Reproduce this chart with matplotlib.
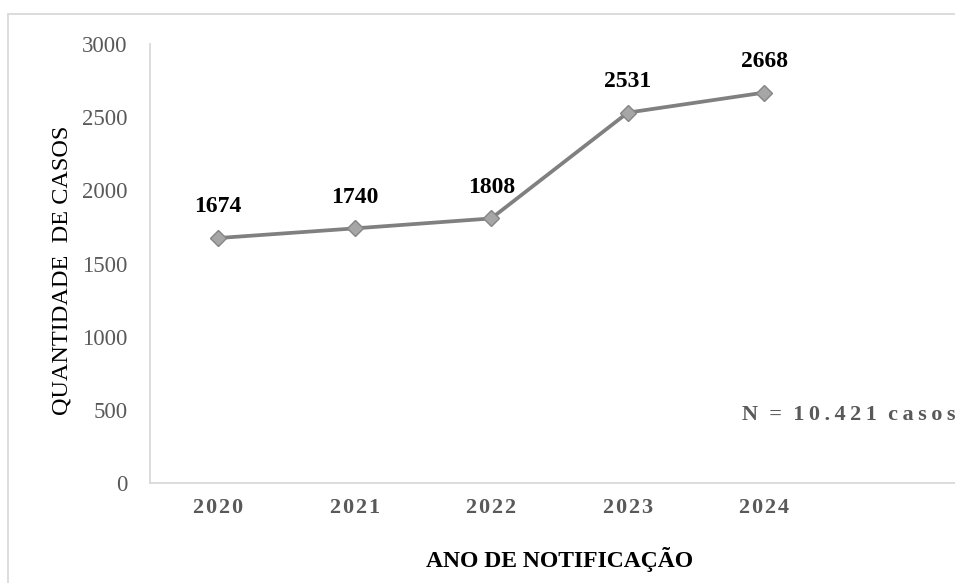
import matplotlib
matplotlib.use("Agg")
import matplotlib.pyplot as plt
from matplotlib.patches import Rectangle

years = ["2020", "2021", "2022", "2023", "2024"]
cases = [1674, 1740, 1808, 2531, 2668]
y_ticks = [0, 500, 1000, 1500, 2000, 2500, 3000]
note = "N = 10.421 casos"
x_title = "ANO DE NOTIFICAÇÃO"
y_title = "QUANTIDADE  DE CASOS"

plt.rcParams['font.family'] = ['Liberation Serif', 'DejaVu Serif']

W, H = 955, 583
fig = plt.figure(figsize=(W / 100, H / 100), dpi=100)

def spaced(s, sep="\u2009"):
    return sep.join(s)

# outer frame
fig.patches.append(Rectangle((8 / W, -0.2), 1.2, 1 - 14 / H + 0.2, transform=fig.transFigure,
                             fill=False, edgecolor="#d9d9d9", linewidth=1.3))

ax = fig.add_axes([150 / W, 100 / H, (969 - 150) / W, (483 - 44) / H])
xs = list(range(len(years)))
ax.plot(xs, cases, color="#808080", linewidth=2.7, marker="D", markersize=8,
        markerfacecolor="#a6a6a6", markeredgecolor="#858585", markeredgewidth=1.0, zorder=3)

for x, v in zip(xs, cases):
    ax.annotate(str(v), (x, v), xytext=(0, 18.5), textcoords="offset points",
                ha="center", va="baseline", fontsize=17, fontweight="bold", color="black")

ax.set_xlim(-0.5, 5.5)
ax.set_ylim(0, 3000)
ax.set_xticks(xs)
ax.set_xticklabels([spaced(y, "\u200a") for y in years], fontsize=16, fontweight="bold", color="#595959")
ax.set_yticks(y_ticks)
ax.set_yticklabels([str(t) for t in y_ticks], fontsize=16.5, color="#595959")
ax.tick_params(axis="both", length=0)
ax.tick_params(axis="y", pad=16)
ax.tick_params(axis="x", pad=11)

for s in ["top", "right"]:
    ax.spines[s].set_visible(False)
for s in ["left", "bottom"]:
    ax.spines[s].set_color("#d9d9d9")
    ax.spines[s].set_linewidth(1.3)

fig.text(742 / W, 1 - 415 / H, "  ".join(spaced(w) for w in note.split(" ")),
         ha="left", va="center", fontsize=16, fontweight="bold", color="#595959")
fig.text(560 / W, 1 - 560 / H, x_title, ha="center", va="center",
         fontsize=17, fontweight="bold", color="black")
fig.text(62 / W, 1 - 270 / H, y_title, ha="center", va="center", rotation=90,
         fontsize=17.5, color="black")

fig.savefig("out.png", dpi=100)
